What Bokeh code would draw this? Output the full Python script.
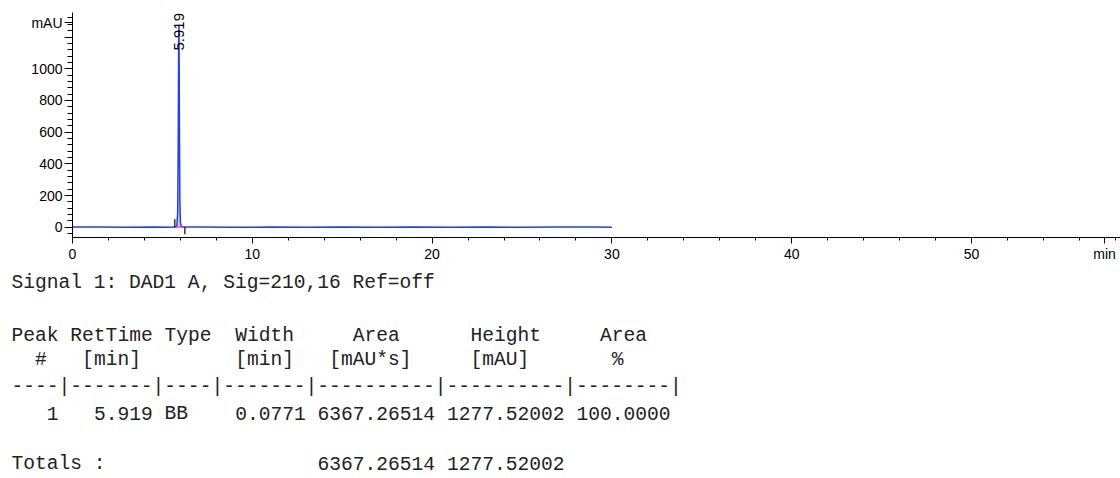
from math import pi
from bokeh.plotting import figure
from bokeh.layouts import column
from bokeh.models import Range1d, FixedTicker, Label, ColumnDataSource
from bokeh.embed import file_html
from bokeh.resources import INLINE
from bokeh.core.properties import value

# ---------------- data ----------------
time_min = [0.0, 1.5, 3.0, 4.5, 5.5, 5.69, 5.80, 5.85, 5.88, 5.90, 5.919,
            5.935, 5.95, 5.97, 6.00, 6.05, 6.25, 7.0, 9.0, 11.0, 13.0,
            15.0, 17.0, 19.0, 21.0, 23.0, 25.0, 27.0, 29.0, 30.0]
signal_mau = [0.5, 1.2, -0.5, 0.8, 0.3, 0.6, 6.0, 90.0, 520.0, 1050.0, 1277.52,
              980.0, 560.0, 190.0, 30.0, 5.0, 0.8, 1.5, -0.8, 1.0, 0.2,
              1.6, -0.4, 1.2, 0.4, 1.5, -0.3, 1.0, 0.6, 0.4]

peak_rt = 5.919
peak_label = "5.919"
peak_start = 5.69
peak_end = 6.25

x_major = [0, 10, 20, 30, 40, 50]
y_major = [0, 200, 400, 600, 800, 1000, 1200]
y_unit_pos = 1290
y_unit = "mAU"
x_unit_pos = 57.4
x_unit = "min"

signal_title = "Signal 1: DAD1 A, Sig=210,16 Ref=off"
table_header1 = ["Peak", "RetTime", "Type", "Width", "Area", "Height", "Area"]
table_header2 = ["#", "[min]", "[min]", "[mAU*s]", "[mAU]", "%"]
separator = "----|-------|----|-------|----------|----------|--------|"
peak_no = ["1"]
ret_time = ["5.919"]
peak_type = ["BB"]
width_min = ["0.0771"]
area = ["6367.26514"]
height = ["1277.52002"]
area_pct = ["100.0000"]
totals_label = "Totals :"
totals_area = "6367.26514"
totals_height = "1277.52002"

# ---------------- geometry ----------------
W = 1120
H_TOP = 270
H_BOT = 478 - H_TOP
PX_LEFT = 72
PY_TOP, PY_BOTTOM = 12, 237
PX_PER_MIN = 17.98
PX_PER_MAU = 0.1585
Y0_PX = 226.7
x_end = (W - PX_LEFT) / PX_PER_MIN
y_start = (Y0_PX - PY_BOTTOM) / PX_PER_MAU
y_end = (Y0_PX - PY_TOP) / PX_PER_MAU

AX_FONT = "Liberation Sans"

p = figure(width=W, height=H_TOP,
           x_range=Range1d(0, x_end), y_range=Range1d(y_start, y_end),
           output_backend="svg", toolbar_location=None,
           min_border_left=PX_LEFT, min_border_right=0,
           min_border_top=PY_TOP, min_border_bottom=H_TOP - PY_BOTTOM)
p.outline_line_color = None
p.xgrid.visible = False
p.ygrid.visible = False

for ax in (p.xaxis[0], p.yaxis[0]):
    ax.axis_line_color = "black"
    ax.axis_line_width = 1
    ax.major_tick_line_color = "black"
    ax.minor_tick_line_color = "black"
    ax.major_tick_in = 0
    ax.minor_tick_in = 0
    ax.major_label_text_font = AX_FONT
    ax.major_label_text_font_size = "14px"
    ax.major_label_text_color = "black"

p.xaxis.ticker = FixedTicker(ticks=x_major + [x_unit_pos], minor_ticks=list(range(0, 60, 2)))
p.xaxis.major_tick_out = 6
p.xaxis.minor_tick_out = 3
p.xaxis.major_label_standoff = 2
p.xaxis.major_label_overrides = {x_unit_pos: x_unit}

p.yaxis.ticker = FixedTicker(ticks=y_major + [y_unit_pos],
                             minor_ticks=list(range(-40, 1360, 40)))
p.yaxis.major_tick_out = 8
p.yaxis.minor_tick_out = 5
p.yaxis.major_label_standoff = 2
p.yaxis.major_label_overrides = {1200: "", y_unit_pos: y_unit}

# peak fill
fill_t = [t for t in time_min if peak_start <= t <= peak_end]
fill_v = [v for t, v in zip(time_min, signal_mau) if peak_start <= t <= peak_end]
p.varea(x=fill_t, y1=[0] * len(fill_t), y2=fill_v, fill_color="#aab8ff", fill_alpha=0.6)

p.line(time_min, signal_mau, line_color="#1f3cff", line_width=1.5)

# integration baseline and markers
p.segment(x0=[peak_start], y0=[0], x1=[peak_end], y1=[0], line_color="#ff3cc8", line_width=1.3)
p.segment(x0=[peak_start, peak_end], y0=[0, 0], x1=[peak_start, peak_end], y1=[50, -45],
          line_color="black", line_width=1.2)

p.add_layout(Label(x=peak_rt, y=(Y0_PX - 50) / PX_PER_MAU, text=peak_label, angle=pi / 2,
                   text_align="left", text_baseline="middle",
                   text_font=AX_FONT, text_font_size="15px", text_color="black"))

# ---------------- report table (second figure, pixel coordinates) ----------------
MONO = "Liberation Mono"
CW = 11.77
X0 = 11

tx, ty, tt = [], [], []


def put(col, py, text):
    tx.append(X0 + col * CW)
    ty.append(py)
    tt.append(text)


put(0, 282, signal_title)
for col, txt in zip([0, 5, 13, 19, 29, 39, 50], table_header1):
    put(col, 335, txt)
for col, txt in zip([2, 6, 19, 27, 39, 51], table_header2):
    put(col, 359, txt)
put(0, 386, separator)
row = [peak_no[0], ret_time[0], peak_type[0], width_min[0], area[0], height[0], area_pct[0]]
for col, txt in zip([3, 7, 13, 19, 26, 37, 48], row):
    put(col, 413, txt)
put(0, 463, totals_label)
put(26, 463, totals_area)
put(37, 463, totals_height)

t = figure(width=W, height=H_BOT, x_range=Range1d(0, W), y_range=Range1d(478, H_TOP),
           output_backend="svg", toolbar_location=None,
           x_axis_location=None, y_axis_location=None,
           min_border_left=0, min_border_right=0, min_border_top=0, min_border_bottom=0)
t.outline_line_color = None
t.xgrid.visible = False
t.ygrid.visible = False
t.text(x="x", y="y", text="text", source=ColumnDataSource(dict(x=tx, y=ty, text=tt)),
       text_font=value(MONO), text_font_size=value("19.6px"), text_color="#222222",
       text_align="left", text_baseline="middle")

for fig in (p, t):
    if "frame_align" in fig.properties():
        fig.frame_align = False

layout = column(p, t, spacing=0)
open("out.html", "w").write(file_html(layout, INLINE))
